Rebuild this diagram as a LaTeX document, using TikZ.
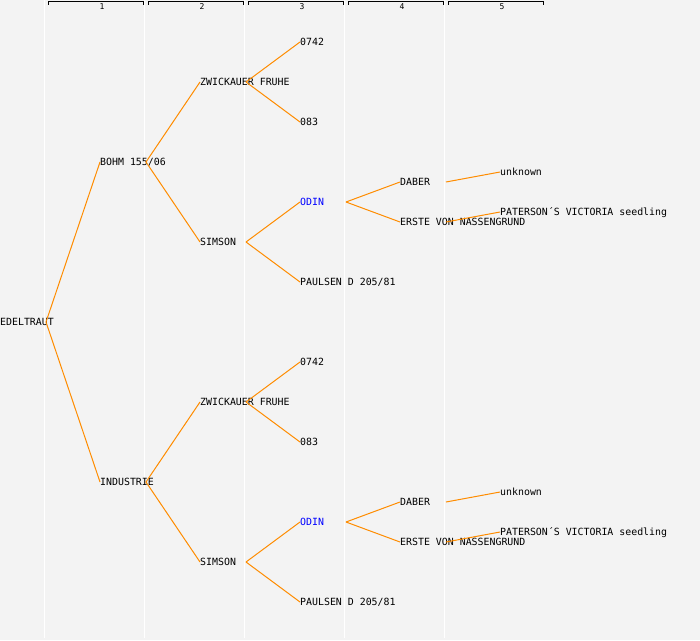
\documentclass[tikz,border=0pt]{standalone}
\usepackage{fontspec}
\setmonofont{DejaVu Sans Mono}
\usepackage{tikz}
\definecolor{branchorange}{HTML}{FF8C00}
\definecolor{paper}{HTML}{F3F3F3}
\definecolor{odinblue}{HTML}{0000FF}

\begin{document}
\begin{tikzpicture}[x=1pt,y=-1pt,
  plant/.style={anchor=west, inner sep=0pt, text height=7.2pt, text depth=0pt,
    font=\ttfamily\fontsize{9.9}{10}\selectfont},
  branch/.style={color=branchorange, line width=1pt}]

\fill[paper] (0,0) rectangle (700,640);
\useasboundingbox (0,0) rectangle (700,640);
\foreach \x in {44.5, 144.5, 244.5, 344.5, 444.5}
\draw[white, line width=1pt] (\x,0) -- (\x,638);
\foreach \i in {1,...,5} {
\draw[line width=1pt] (\i*100-52,4.5) -- (\i*100-52,1.5) -- (\i*100+43,1.5) -- (\i*100+43,4.5);
\node[inner sep=0pt, font=\ttfamily\fontsize{8}{8}\selectfont] (gen\i) at (\i*100+2,6.5) {\i};
}
\foreach \i in {1,...,5}
\coordinate (c\i) at (\i*100-54,0);

\node[plant] (edeltraut) at (0,322) {EDELTRAUT};
\node[plant] (bohm) at (100,162) {BOHM 155/06};
\node[plant] (industrie) at (100,482) {INDUSTRIE};
\draw[branch] (edeltraut.west -| c1) -- (bohm.west);
\draw[branch] (edeltraut.west -| c1) -- (industrie.west);

\foreach \h/\dy/\pnode in {a/0/bohm, b/320/industrie} {
  \node[plant] (zwick\h) at (200,82+\dy) {ZWICKAUER FRUHE};
  \node[plant] (simson\h) at (200,242+\dy) {SIMSON};
  \node[plant] (nulla\h) at (300,42+\dy) {0742};
  \node[plant] (nullb\h) at (300,122+\dy) {083};
  \node[plant, text=odinblue] (odin\h) at (300,202+\dy) {ODIN};
  \node[plant] (paulsen\h) at (300,282+\dy) {PAULSEN D 205/81};
  \node[plant] (daber\h) at (400,182+\dy) {DABER};
  \node[plant] (erste\h) at (400,222+\dy) {ERSTE VON NASSENGRUND};
  \node[plant] (unknown\h) at (500,172+\dy) {unknown};
  \node[plant] (paterson\h) at (500,212+\dy) {PATERSON´S VICTORIA seedling};
  \draw[branch] (\pnode.west -| c2) -- (zwick\h.west);
  \draw[branch] (\pnode.west -| c2) -- (simson\h.west);
  \draw[branch] (zwick\h.west -| c3) -- (nulla\h.west);
  \draw[branch] (zwick\h.west -| c3) -- (nullb\h.west);
  \draw[branch] (simson\h.west -| c3) -- (odin\h.west);
  \draw[branch] (simson\h.west -| c3) -- (paulsen\h.west);
  \draw[branch] (odin\h.west -| c4) -- (daber\h.west);
  \draw[branch] (odin\h.west -| c4) -- (erste\h.west);
  \draw[branch] (daber\h.west -| c5) -- (unknown\h.west);
  \draw[branch] (erste\h.west -| c5) -- (paterson\h.west);
}
\end{tikzpicture}
\end{document}
